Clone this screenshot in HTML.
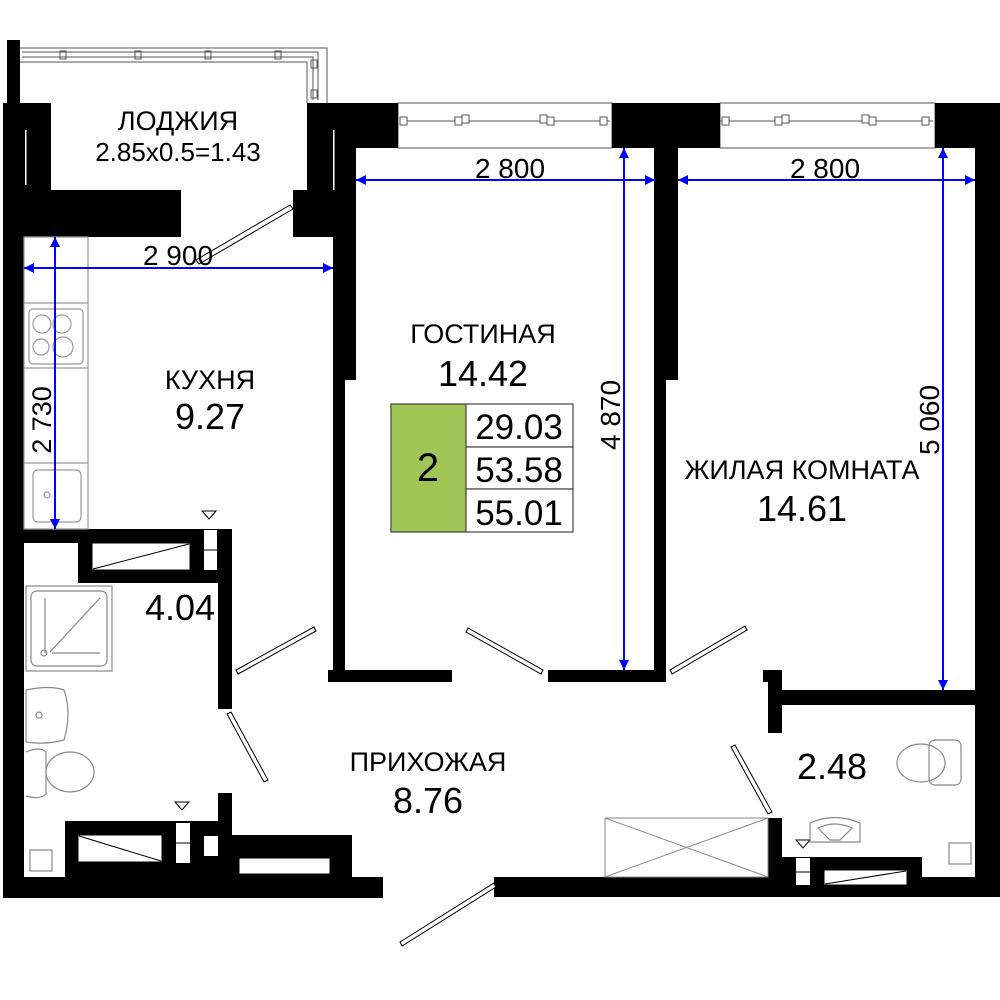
<!DOCTYPE html>
<html><head><meta charset="utf-8"><style>
html,body{margin:0;padding:0;background:#fff}
svg{display:block}
text{font-family:"Liberation Sans",sans-serif;fill:#000}
</style></head><body>
<svg width="1000" height="1000" viewBox="0 0 1000 1000" xmlns="http://www.w3.org/2000/svg">
<defs>
<marker id="ar" viewBox="0 0 10 10" refX="10" refY="5" markerWidth="14" markerHeight="10" markerUnits="userSpaceOnUse" orient="auto-start-reverse"><path d="M0,0 L10,5 L0,10 z" fill="#0000ff"/></marker>
</defs>
<g fill="none" stroke="#555" stroke-width="1">
<path d="M20,48 H327 V103"/><path d="M20,62 H307 V103"/>
<path d="M22,52 H318 V100"/><path d="M22,57 H313 V100"/>
<rect x="60" y="51" width="6" height="8"/><rect x="135" y="51" width="6" height="8"/><rect x="205" y="51" width="6" height="8"/><rect x="275" y="51" width="6" height="8"/>
<rect x="311" y="60" width="6" height="8"/><rect x="311" y="90" width="6" height="8"/>
</g>
<g fill="none" stroke="#555" stroke-width="1">
<rect x="398" y="103" width="214" height="45"/>
<rect x="720" y="103" width="215" height="45"/>
<path d="M400,121 H610 M720,121 H933"/>
</g>
<g fill="#fff" stroke="#555" stroke-width="1">
<rect x="400" y="117" width="7" height="8"/><rect x="455" y="117" width="7" height="8"/><rect x="462" y="115" width="7" height="8"/><rect x="540" y="115" width="7" height="8"/><rect x="547" y="117" width="7" height="8"/><rect x="600" y="117" width="7" height="8"/>
<rect x="722" y="117" width="7" height="8"/><rect x="775" y="117" width="7" height="8"/><rect x="782" y="115" width="7" height="8"/><rect x="862" y="115" width="7" height="8"/><rect x="869" y="117" width="7" height="8"/><rect x="922" y="117" width="7" height="8"/>
</g>
<g fill="#000">
<rect x="7" y="40" width="13" height="65"/>
<rect x="3" y="103" width="48" height="90"/>
<rect x="3" y="190" width="178" height="47"/>
<rect x="3" y="190" width="21" height="703"/>
<rect x="307" y="103" width="91" height="45"/>
<rect x="293" y="190" width="40" height="47"/>
<rect x="307" y="103" width="49" height="134"/>
<rect x="333" y="148" width="23" height="232"/>
<rect x="333" y="237" width="12" height="445"/>
<rect x="328" y="670" width="124" height="12"/>
<rect x="548" y="670" width="118" height="12"/>
<rect x="612" y="103" width="108" height="45"/>
<rect x="655" y="148" width="23" height="232"/>
<rect x="654" y="148" width="12" height="534"/>
<rect x="935" y="103" width="65" height="45"/>
<rect x="975" y="103" width="25" height="794"/>
<rect x="780" y="690" width="195" height="15"/>
<rect x="768" y="670" width="14" height="63"/>
<rect x="763" y="670" width="19" height="12"/>
<rect x="768" y="818" width="14" height="60"/>
<rect x="782" y="857" width="140" height="20"/>
<rect x="494" y="877" width="506" height="20"/>
<rect x="3" y="877" width="380" height="21"/>
<rect x="3" y="529" width="229" height="14"/>
<rect x="78" y="543" width="154" height="40"/>
<rect x="218" y="529" width="14" height="180"/>
<rect x="65" y="821" width="167" height="56"/>
<rect x="218" y="793" width="14" height="84"/>
<rect x="232" y="835" width="120" height="42"/>
</g>
<g fill="#fff" stroke="#000" stroke-width="1">
<rect x="92" y="543" width="98" height="27"/>
<rect x="78" y="835" width="84" height="27"/>
<rect x="239" y="858" width="91" height="16"/>
<rect x="824" y="870" width="83" height="15"/>
</g>
<g stroke="#000" stroke-width="1"><path d="M93,569 L189,544 M79,836 L161,861 M825,884 L906,871"/></g>
<g fill="#fff"><rect x="204" y="530" width="13" height="40"/><rect x="176" y="823" width="14" height="40"/><rect x="796" y="858" width="14" height="27"/><rect x="204" y="836" width="14" height="20"/></g>
<g stroke="#000" stroke-width="1" fill="none"><path d="M204,550 H218 M176,843 H190 M796,872 H810"/></g>
<rect x="25" y="130" width="1.5" height="55" fill="#fff"/>
<rect x="333" y="130" width="1.5" height="60" fill="#fff"/>
<g fill="#fff" stroke="#000" stroke-width="1"><path d="M202,511 L216,511 L209,519 z M175,802 L189,802 L182,810 z M796,840 L810,840 L803,848 z"/></g>
<g fill="#fff" stroke="#000" stroke-width="1">
<polygon points="290,205 293,209 199,264 196,260"/>
<polygon points="236,670 238,674 316,631 314,627"/>
<polygon points="227,714 231,712 268,780 264,782"/>
<polygon points="543,670 541,674 466,632 468,628"/>
<polygon points="670,670 672,674 747,630 745,626"/>
<polygon points="772,812 768,814 731,747 735,745"/>
<polygon points="494,883 496,887 402,946 400,942"/>
</g>
<g fill="none" stroke="#888" stroke-width="1"><rect x="605" y="818" width="163" height="59"/><path d="M605,818 L768,877 M605,877 L768,818"/></g>
<g fill="none" stroke="#999" stroke-width="1.2">
<rect x="24" y="237" width="64" height="292"/>
<path d="M24,303 H88 M24,368 H88 M24,463 H88"/>
<rect x="29" y="309" width="54" height="55" rx="4"/>
<circle cx="42" cy="324" r="9"/><circle cx="62" cy="324" r="9"/><circle cx="41" cy="347" r="8"/><circle cx="63" cy="347" r="10"/>
<rect x="33" y="470" width="48" height="52" rx="5"/><circle cx="47" cy="495" r="3"/>
</g>
<g fill="none" stroke="#888" stroke-width="1.2">
<rect x="26" y="586" width="86" height="85"/>
<rect x="31" y="591" width="76" height="75" rx="6"/>
<path d="M45,598 V653 M50,652 L100,598 M52,653 H100"/><circle cx="44" cy="653" r="3"/>
<path d="M26,690 Q50,685 64,690 Q72,712 64,740 Q45,745 26,742 z"/><circle cx="39" cy="715" r="3"/>
<path d="M26,752 Q40,746 46,752 L46,794 Q40,800 26,796"/>
<ellipse cx="70" cy="772" rx="24" ry="20"/>
<rect x="929" y="740" width="32" height="45" rx="6"/>
<ellipse cx="921" cy="763" rx="24" ry="19"/>
<path d="M810,823 Q835,812 860,823 L860,842 L810,842 z"/>
<path d="M818,828 Q835,820 852,828 L840,840 L830,840 z"/>
<rect x="30" y="850" width="22" height="21"/>
<rect x="949" y="843" width="22" height="21"/>
</g>
<g stroke="#0000ff" stroke-width="2" fill="none">
<line x1="24" y1="268" x2="333" y2="268" marker-start="url(#ar)" marker-end="url(#ar)"/>
<line x1="55" y1="237" x2="55" y2="529" marker-start="url(#ar)" marker-end="url(#ar)"/>
<line x1="356" y1="180" x2="655" y2="180" marker-start="url(#ar)" marker-end="url(#ar)"/>
<line x1="678" y1="180" x2="975" y2="180" marker-start="url(#ar)" marker-end="url(#ar)"/>
<line x1="624" y1="148" x2="624" y2="670" marker-start="url(#ar)" marker-end="url(#ar)"/>
<line x1="943" y1="148" x2="943" y2="690" marker-start="url(#ar)" marker-end="url(#ar)"/>
</g>
<rect x="391" y="404" width="75" height="128" fill="#a0c656" stroke="#444" stroke-width="1.2"/>
<g fill="#fff" stroke="#444" stroke-width="1.2"><rect x="466" y="404" width="107" height="43"/><rect x="466" y="447" width="107" height="42"/><rect x="466" y="489" width="107" height="43"/></g>
<g text-anchor="middle">
<text x="178" y="130" font-size="27">ЛОДЖИЯ</text>
<text x="178" y="161" font-size="26">2.85x0.5=1.43</text>
<text x="178" y="265" font-size="28">2 900</text>
<text x="510" y="178" font-size="28">2 800</text>
<text x="825" y="178" font-size="28">2 800</text>
<text x="210" y="389" font-size="27">КУХНЯ</text>
<text x="210" y="429" font-size="36">9.27</text>
<text x="483" y="343" font-size="27">ГОСТИНАЯ</text>
<text x="483" y="386" font-size="36">14.42</text>
<text x="802" y="479" font-size="27">ЖИЛАЯ КОМНАТА</text>
<text x="802" y="521" font-size="36">14.61</text>
<text x="180" y="620" font-size="36">4.04</text>
<text x="428" y="771" font-size="27">ПРИХОЖАЯ</text>
<text x="428" y="813" font-size="36">8.76</text>
<text x="832" y="779" font-size="36">2.48</text>
<text x="428" y="481" font-size="40">2</text>
<text x="519" y="439" font-size="35">29.03</text>
<text x="519" y="482" font-size="35">53.58</text>
<text x="519" y="525" font-size="35">55.01</text>
<text transform="translate(51,420) rotate(-90)" font-size="27">2 730</text>
<text transform="translate(620,415) rotate(-90)" font-size="28">4 870</text>
<text transform="translate(939,420) rotate(-90)" font-size="28">5 060</text>
</g>
</svg>
</body></html>
